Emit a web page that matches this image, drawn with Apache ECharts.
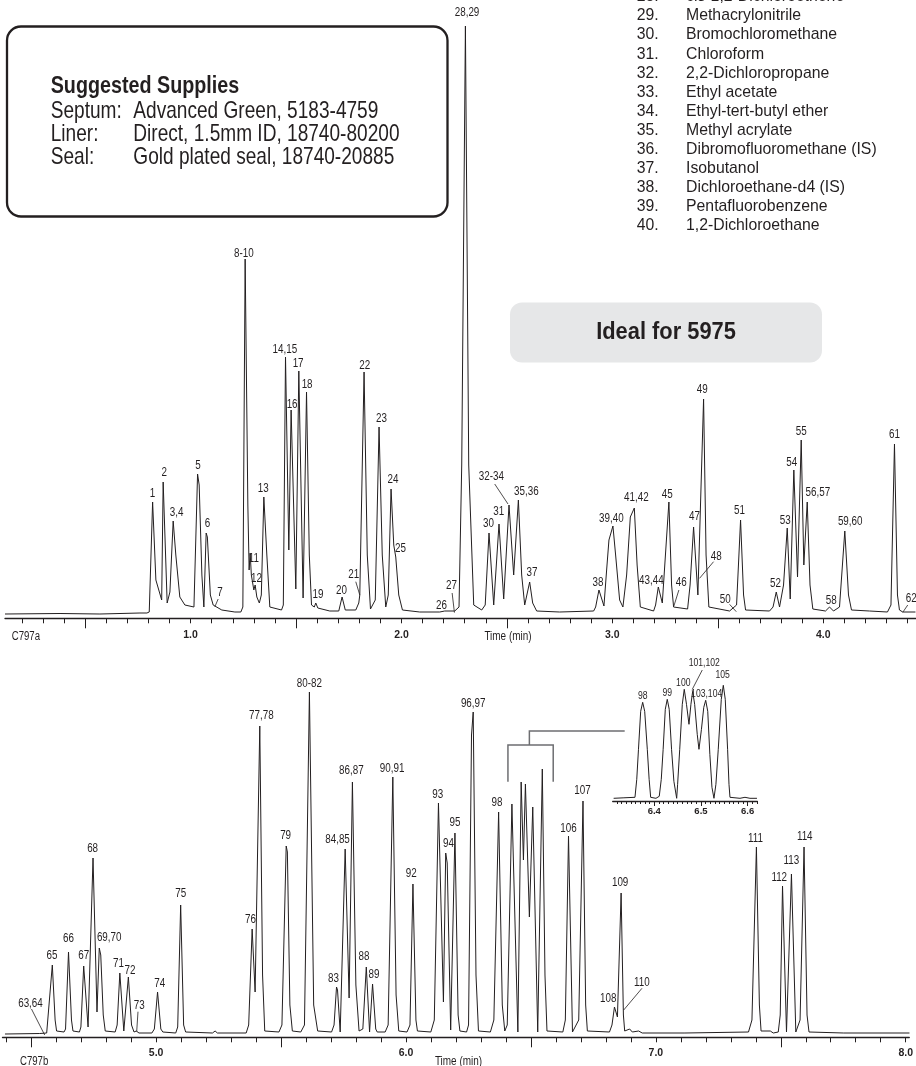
<!DOCTYPE html>
<html><head><meta charset="utf-8">
<script src="https://cdn.jsdelivr.net/npm/echarts@6/dist/echarts.min.js"></script>
<style>html,body{margin:0;padding:0;background:#fff}#c{width:916px;height:1066px}</style>
</head><body><div id="c"></div>
<script>
// ---------- DATA (time in min, response in arbitrary units) ----------
const topTrace = [
[0.120,1],[0.381,1.5],[0.570,1],[0.760,2],[0.793,2],
[0.804,3],[0.820,113],[0.8355,35],[0.863,15],[0.870,133],[0.889,12],[0.902,23],[0.9067,22],[0.9175,94],[0.930,60],[0.949,18],[0.973,10],[1.016,8],
[1.0237,10],[1.0332,141],[1.0408,130],[1.0536,40],[1.063,8],[1.0739,82],[1.0796,78],[1.0938,20],[1.1071,10],[1.1152,8],[1.148,5],[1.21,3],[1.2384,3],
[1.2479,8],[1.2588,356],[1.2716,110],[1.2777,45],[1.2825,62],[1.2882,40],[1.300,25],[1.3062,30],[1.3142,18],[1.3261,12],[1.3355,20],[1.3474,118],[1.3616,60],[1.3758,8],[1.4313,5],
[1.4398,10],[1.4502,258],[1.4659,65],[1.4768,205],[1.4991,26],[1.5133,244],[1.5336,17],[1.5498,223],[1.563,60],[1.5735,10],[1.5867,8],[1.5938,12],[1.6033,7],[1.660,4],
[1.7028,4],[1.7185,18],[1.7336,5],[1.7834,5],[1.7976,12],[1.8024,20],[1.8227,243],[1.8379,60],[1.8531,6],[1.8758,15],[1.8938,188],[1.909,60],[1.9256,8],[1.9374,20],[1.9507,126],[1.9635,70],[1.973,58],[1.9872,20],[2.0047,5],
[2.0867,3],[2.1815,3],[2.2052,4],[2.2526,4],[2.273,8],[2.2858,150],[2.3033,589],[2.3190,150],[2.3427,10],[2.3806,5],
[2.3972,10],[2.4152,82],[2.4375,10],[2.4626,91],[2.4848,16],[2.51,110],[2.5322,40],[2.5545,115],[2.5701,40],[2.5844,10],[2.5938,12],[2.608,33],[2.6223,12],[2.6412,4],
[2.750,3],[2.9114,4],[2.9209,8],[2.9365,25],[2.9602,9],[2.9730,45],[2.9839,75],[3.0028,89],[3.0156,60],[3.0346,15],[3.0502,8],[3.0678,40],[3.0853,98],[3.1043,107],[3.1175,50],[3.1327,8],
[3.1957,4],[3.2052,10],[3.218,28],[3.2370,12],[3.2682,113],[3.281,30],[3.2905,8],[3.3569,6],[3.3687,30],[3.3853,88],[3.4057,20],[3.4327,216],[3.4445,60],[3.4578,8],
[3.5560,4],[3.5891,10],[3.6081,95],[3.6223,20],[3.6318,5],[3.7455,4],[3.7621,8],[3.7773,23],[3.7929,8],[3.8119,30],[3.8294,87],[3.8436,16],[3.8607,145],[3.8782,38],[3.8957,175],[3.9081,50],[3.9242,113],[3.9374,30],[3.9507,6],
[4.0109,4],[4.0299,8],[4.0488,4],[4.0773,8],[4.1024,84],[4.1199,20],[4.1341,5],[4.2194,4],[4.3047,3],[4.3213,10],[4.3379,171],[4.3521,20],[4.3616,5],[4.3773,3],[4.4374,3]
];
const topLabels = [
["1",0.8199,121],["2",0.8749,142.7],["3,4",0.9336,102.7],["5",1.0346,149],["6",1.0806,91],["7",1.1389,22.7],["8-10",1.2526,361.7],["11",1.30,56.7],["12",1.3128,36],["13",1.3441,126.7],["14,15",1.4469,265.7],["16",1.4815,210],["17",1.51,251],["18",1.5526,230],["19",1.6047,20],["20",1.7156,24.3],["21",1.774,40],["22",1.8261,249.4],["23",1.9052,196.8],["24",1.9602,135.6],["25",1.9953,66.4],["26",2.1896,9],["27",2.237,29],["28,29",2.3109,602],["30",2.4123,91.3],["31",2.4611,103],["32-34",2.4265,138.7],["35,36",2.5924,123],["37",2.619,42],["38",2.9318,32.3],["39,40",2.9953,96.7],["41,42",3.1137,117.3],["43,44",3.1848,34],["45",3.2607,120.7],["46",3.327,32.3],["47",3.39,98.3],["48",3.4929,58.3],["49",3.4265,225.7],["50",3.5355,15.7],["51",3.6033,104.3],["52",3.7739,31.7],["53",3.8199,94.7],["54",3.8512,152.7],["55",3.8957,183.3],["56,57",3.9744,122.3],["58",4.0379,14.3],["59,60",4.128,93.7],["61",4.3379,180],["62",4.4171,16]
];
const topLeaders = [
[[1.1308,16],[1.1152,8.3]],[[1.7834,33.3],[1.8024,20]],[[2.2403,22],[2.2512,2.4]],[[2.4422,131],[2.5052,111]],
[[3.3156,25],[3.2919,9]],[[3.4801,53.3],[3.4137,36.7]],[[3.5559,10.7],[3.5877,3.3]],[[4.4009,10],[4.3773,2.7]]
];
const bottomTrace = [
[4.3949,1],[4.534,1.5],[4.5618,2],[4.5697,4],[4.5844,70],[4.5956,15],[4.6015,4],[4.6313,3],[4.6373,6],[4.6492,83],[4.6611,15],[4.6671,4],[4.6929,3],[4.6988,8],[4.71,69],[4.7275,8],[4.7473,177],[4.7632,23],[4.7723,87],[4.7783,80],[4.7882,20],[4.7962,4],[4.8359,3],[4.8439,10],[4.8546,62],[4.8705,4],[4.8888,58],[4.9015,10],[4.9114,3],[4.9205,4],[4.9313,2],[4.9829,2],[4.9928,6],[5.0056,43],[5.0187,6],[5.0266,3],[5.0783,2],[5.0862,8],[5.0981,130],[5.11,10],[5.118,3],[5.2253,2],[5.236,4],[5.2451,2],[5.3603,2],[5.3703,10],[5.3842,106],[5.3961,43],[5.4148,309],[5.4259,60],[5.4346,4],[5.4915,3],[5.5034,10],[5.5205,189],[5.5252,183],[5.5352,30],[5.5451,4],[5.5789,3],[5.5936,10],[5.6134,343],[5.6305,30],[5.6464,4],[5.7021,3],[5.712,10],[5.7219,48],[5.7259,45],[5.7366,3],[5.7565,186],[5.7723,37],[5.7855,253],[5.7994,50],[5.8121,4],[5.8272,6],[5.8411,68],[5.8542,3],[5.8661,51],[5.8788,6],[5.8848,3],[5.9166,3],[5.9285,10],[5.9472,258],[5.9603,40],[5.971,4],[6.004,3],[6.0159,10],[6.0278,151],[6.0397,15],[6.0457,4],[6.0993,3],[6.1132,15],[6.1299,232],[6.1498,33],[6.1589,182],[6.1649,172],[6.1788,5],[6.1959,202],[6.2086,20],[6.2157,4],[6.2424,3],[6.2503,10],[6.2622,300],[6.2690,323],[6.2801,60],[6.2900,4],[6.3377,3],[6.3516,15],[6.3707,223],[6.3854,30],[6.3953,4],[6.4052,10],[6.4239,231],[6.4477,3],[6.4609,253],[6.47,175],[6.4779,251],[6.4938,118],[6.5073,228],[6.5272,3],[6.5455,266],[6.5562,60],[6.5642,4],[6.6277,3],[6.6377,15],[6.6504,199],[6.6663,3],[6.6913,15],[6.7084,234],[6.7191,30],[6.7259,4],[6.8144,3],[6.8244,10],[6.8343,28],[6.8462,18],[6.861,142],[6.8701,20],[6.8753,4],[6.8951,6],[6.9058,3],[6.9309,4],[6.9456,2],[7.1005,2],[7.1073,4],[7.1164,2],[7.3707,3],[7.3846,15],[7.4025,188],[7.4144,30],[7.4211,4],[7.4581,4],[7.47,2],[7.4899,3],[7.4978,20],[7.507,149],[7.5229,3],[7.5427,161],[7.5602,3],[7.5772,15],[7.5931,188],[7.6051,20],[7.613,3],[7.7521,2],[8.0151,2]
];
const bottomLabels = [
["63,64",4.497,31.7],["65",4.5828,79],["66",4.6492,96.7],["67",4.71,79],["68",4.7457,186.7],["69,70",4.8121,97.7],["71",4.849,71],["72",4.8955,64],["73",4.9325,29],["74",5.0147,51.7],["75",5.0981,141],["76",5.3774,115],["77,78",5.4211,319],["79",5.5181,199],["80-82",5.6134,351.7],["83",5.71,56.7],["84,85",5.7259,195],["86,87",5.7815,264],["88",5.8319,78.3],["89",5.8717,60],["90,91",5.9444,266.7],["92",6.0211,161],["93",6.1271,240],["94",6.1696,191],["95",6.1959,212.7],["96,97",6.2690,331.7],["98",6.3643,232.7],["106",6.6504,206],["107",6.706,244],["108",6.8093,36.7],["109",6.857,152.3],["110",6.9444,52.3],["111",7.3985,196.7],["112",7.4939,157.7],["113",7.5427,174],["114",7.5959,198.3]
];
const bottomLeaders = [
[[4.501,26],[4.5538,0]],[[4.9273,23.3],[4.9221,3.3]],[[6.9444,46.7],[6.8713,25]]
];
const bracketLines = [
[[6.408,253.3],[6.408,290],[6.5892,290],[6.5892,253.3]],
[[6.4938,290],[6.4938,304],[6.8753,304]]
];
const insetTrace = [
[6.313,1],[6.335,1.5],[6.3587,2],[6.3625,20],[6.3662,50],[6.3709,88],[6.3752,97],[6.3795,88],[6.3851,50],[6.3890,20],[6.3923,2],[6.4036,1],
[6.4107,3],[6.4150,20],[6.4190,50],[6.4236,90],[6.4278,100],[6.4320,90],[6.4370,50],[6.4420,18],[6.448,1],
[6.4500,15],[6.4545,50],[6.4600,95],[6.4642,110],[6.4690,95],[6.4743,75],
[6.4785,95],[6.4822,108],[6.4865,95],[6.4920,65],[6.4957,50],
[6.5010,70],[6.5060,92],[6.5101,99],[6.5145,88],[6.5190,45],[6.5235,12],[6.5278,1],
[6.5320,15],[6.5370,50],[6.5435,100],[6.5478,114],[6.5520,100],[6.5570,50],[6.5600,15],[6.5621,2],
[6.5835,1],[6.5942,2],[6.6049,1],[6.6199,1]
];
const insetLabels = [
["98",6.3752,103.3],["99",6.4278,106],["100",6.4621,116],["101,102",6.5071,136.6],["103,104",6.5122,105],["105",6.5465,124.3]
];
const insetLeaders = [[[6.5028,129.3],[6.4814,110]]];

// tick values
const topTickLabels = [1, 2, 3, 4];
const topLongTicks = [0.5, 1.5, 2.5, 3.5];
const bottomTickLabels = [5, 6, 7, 8];
const bottomLongTicks = [4.5, 5.5, 6.5, 7.5];
const insetTickLabels = [6.4, 6.5, 6.6];

// annotation text
const compoundNums = ["28.","29.","30.","31.","32.","33.","34.","35.","36.","37.","38.","39.","40."];
const compoundNames = ["cis-1,2-Dichloroethene","Methacrylonitrile","Bromochloromethane","Chloroform","2,2-Dichloropropane","Ethyl acetate","Ethyl-tert-butyl ether","Methyl acrylate","Dibromofluoromethane (IS)","Isobutanol","Dichloroethane-d4 (IS)","Pentafluorobenzene","1,2-Dichloroethane"];
const supplyTitle = "Suggested Supplies";
const supplyKeys = ["Septum:","Liner:","Seal:"];
const supplyVals = ["Advanced Green, 5183-4759","Direct, 1.5mm ID, 18740-80200","Gold plated seal, 18740-20885"];
const badgeText = "Ideal for 5975";
const topCode = "C797a", bottomCode = "C797b", axisTitle = "Time (min)";

// ---------- helpers ----------
function range(a, b, step) { const r = []; const n = Math.round((b - a) / step); for (let i = 0; i <= n; i++) r.push(+(a + i * step).toFixed(4)); return r; }
const topMinorTicks = range(0.2, 4.4, 0.1);
const bottomMinorTicks = range(4.4, 8.0, 0.1);
const insetMinorTicks = range(6.32, 6.62, 0.01);

const FONT = "'Liberation Sans', Arial, sans-serif";
const INK = '#231f20';
const NARROW = 0.82;

function mainX(grid, min, max, ticks, labels, tickLen, labelMargin, fs) {
  return {
    type: 'value', gridIndex: grid, min: min, max: max, position: 'bottom',
    axisLine: { show: true, onZero: false, lineStyle: { color: INK, width: 1.3 } },
    axisTick: { show: true, customValues: ticks, length: tickLen, lineStyle: { color: INK, width: 1 } },
    axisLabel: { show: true, customValues: labels, formatter: v => v.toFixed(1), fontFamily: FONT, fontWeight: 'bold', fontSize: fs, color: INK, margin: labelMargin },
    splitLine: { show: false }
  };
}
function longX(grid, min, max, ticks, len) {
  return {
    type: 'value', gridIndex: grid, min: min, max: max, position: 'bottom',
    axisLine: { show: false, onZero: false },
    axisTick: { show: true, customValues: ticks, length: len, lineStyle: { color: INK, width: 1 } },
    axisLabel: { show: false }, splitLine: { show: false }
  };
}
function traceSeries(xi, yi, data, w) {
  return { type: 'line', xAxisIndex: xi, yAxisIndex: yi, data: data, symbol: 'none', showSymbol: false,
    lineStyle: { color: INK, width: w }, silent: true, z: 3 };
}
// peak labels: drawn through the axis scales, with condensed text
function labelSeries(xi, yi, arr, fs) {
  return { type: 'custom', xAxisIndex: xi, yAxisIndex: yi, silent: true, z: 6, clip: false,
    encode: { x: 0, y: 1 },
    data: arr.map(d => [d[1], d[2]]),
    renderItem: function (params, api) {
      const p = api.coord([api.value(0), api.value(1)]);
      return { type: 'text', x: p[0], y: p[1], scaleX: NARROW,
        style: { text: arr[params.dataIndex][0], font: fs + 'px ' + FONT, fill: INK, align: 'center', verticalAlign: 'middle' } };
    } };
}
function leaderSeries(xi, yi, arr, color, w) {
  return { type: 'lines', coordinateSystem: 'cartesian2d', xAxisIndex: xi, yAxisIndex: yi, polyline: true, silent: true, z: 4,
    lineStyle: { color: color, width: w, opacity: 1 }, data: arr.map(c => ({ coords: c })) };
}
function txt(x, y, text, font, sx, align) {
  return { type: 'text', x: x, y: y, scaleX: sx, z: 11,
    style: { text: text, font: font, fill: INK, align: align || 'left', verticalAlign: 'middle' } };
}

const graphics = [
  { type: 'rect', shape: { x: 7, y: 26.5, width: 440.5, height: 190, r: 14 }, style: { fill: '#fff', stroke: INK, lineWidth: 2.3 }, z: 10 },
  txt(50.7, 86.7, supplyTitle, "bold 24px " + FONT, 0.822),
  { type: 'rect', shape: { x: 510, y: 302.5, width: 312, height: 60, r: 12 }, style: { fill: '#e6e7e8' }, z: 10 },
  txt(666, 333, badgeText, "bold 23px " + FONT, 0.95, 'center'),
  txt(11.7, 636.7, topCode, "12px " + FONT, 0.8),
  txt(508, 637, axisTitle, "12px " + FONT, 0.83, 'center'),
  txt(20, 1061.7, bottomCode, "12px " + FONT, 0.8),
  txt(458.5, 1061.7, axisTitle, "12px " + FONT, 0.83, 'center')
];
const rowY = [111.7, 134.5, 157.3];
supplyKeys.forEach((k, i) => {
  graphics.push(txt(50.7, rowY[i], k, "24px " + FONT, 0.795));
  graphics.push(txt(133.3, rowY[i], supplyVals[i], "24px " + FONT, 0.795));
});
compoundNums.forEach((n, i) => {
  const y = -3.4 + 19.1 * i;
  graphics.push(txt(636.7, y, n, "17px " + FONT, 0.93));
  graphics.push(txt(686, y, compoundNames[i], "17px " + FONT, 0.93));
});

const option = {
  animation: false,
  backgroundColor: '#fff',
  grid: [
    { left: 5, top: 0, width: 911.5, height: 618.3 },
    { left: 2.5, top: 650, width: 913.5, height: 387.3 },
    { left: 612.7, top: 650, width: 144.6, height: 151 }
  ],
  xAxis: [
    mainX(0, 0.12, 4.44, topMinorTicks, topTickLabels, 5, 11, 10.5),
    longX(0, 0.12, 4.44, topLongTicks, 10),
    mainX(1, 4.385, 8.0143, bottomMinorTicks, bottomTickLabels, 5, 10, 10.5),
    longX(1, 4.385, 8.0143, bottomLongTicks, 10),
    mainX(2, 6.311, 6.6206, insetMinorTicks, insetTickLabels, 3, 5, 9.5),
    longX(2, 6.311, 6.6206, insetTickLabels, 5)
  ],
  yAxis: [
    { type: 'value', gridIndex: 0, min: -3.3, max: 615, show: false },
    { type: 'value', gridIndex: 1, min: -2.3, max: 385, show: false },
    { type: 'value', gridIndex: 2, min: -1.7, max: 149.3, show: false }
  ],
  series: [
    traceSeries(0, 0, topTrace, 1),
    labelSeries(0, 0, topLabels, 12),
    leaderSeries(0, 0, topLeaders, INK, 0.8),
    traceSeries(2, 1, bottomTrace, 1),
    labelSeries(2, 1, bottomLabels, 12),
    leaderSeries(2, 1, bottomLeaders, INK, 0.8),
    leaderSeries(2, 1, bracketLines, '#6d6e71', 1.5),
    traceSeries(4, 2, insetTrace, 1),
    labelSeries(4, 2, insetLabels, 10.5),
    leaderSeries(4, 2, insetLeaders, INK, 0.8)
  ],
  graphic: { elements: graphics }
};
const chart = echarts.init(document.getElementById('c'), null, { renderer: 'canvas' });
chart.setOption(option);
</script>
</body></html>
